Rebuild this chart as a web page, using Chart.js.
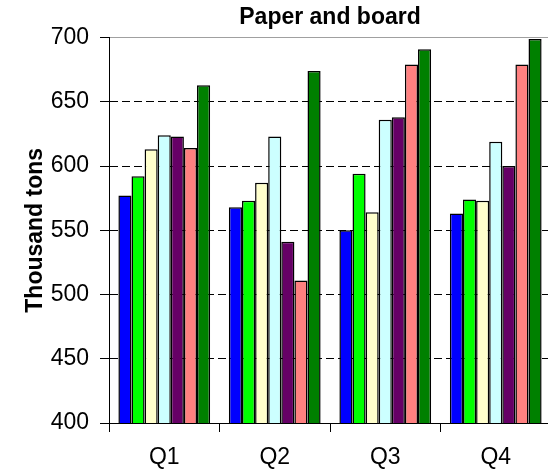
<!DOCTYPE html>
<html>
<head>
<meta charset="utf-8">
<script src="https://cdn.jsdelivr.net/npm/chart.js@4/dist/chart.umd.min.js"></script>
<style>
  html, body { margin: 0; padding: 0; background: #fff; overflow: hidden; }
  canvas { display: block; }
</style>
</head>
<body>
<canvas id="chart" width="551" height="473"></canvas>
<script>
// Paper and board production, thousand tons, by quarter
const quarters = ['Q1', 'Q2', 'Q3', 'Q4'];
const series1 = [577, 568, 550, 563];
const series2 = [592, 573, 594, 574];
const series3 = [613, 587, 564, 573];
const series4 = [624, 623, 636, 619];
const series5 = [623, 541, 638, 600];
const series6 = [614, 511, 679, 679];
const series7 = [663, 674, 691, 699];
const seriesColors = ['#0000ff', '#00ff00', '#ffffcc', '#ccffff', '#660066', '#ff8080', '#008000'];
const yTicks = [400, 450, 500, 550, 600, 650, 700];

const FONT = "Arial, 'Liberation Sans', sans-serif";

const allSeries = [series1, series2, series3, series4, series5, series6, series7];
const datasets = allSeries.map((values, i) => ({
    label: 'Series ' + (i + 1),
    data: values,
    backgroundColor: seriesColors[i],
    borderColor: '#000',
    borderWidth: 1.5,
    borderSkipped: false,
    categoryPercentage: 0.83,
    barPercentage: 1.0
}));

// centre the title over the plot area rather than the whole canvas
const titleOverPlot = {
    id: 'titleOverPlot',
    afterLayout(chart) {
        if (chart.titleBlock) {
            chart.titleBlock.left = chart.chartArea.left;
            chart.titleBlock.right = chart.chartArea.right;
        }
    }
};

new Chart(document.getElementById('chart'), {
    type: 'bar',
    data: { labels: quarters, datasets },
    plugins: [titleOverPlot],
    options: {
        responsive: false,
        animation: false,
        layout: { padding: 0 },
        plugins: {
            legend: { display: false },
            tooltip: { enabled: false },
            title: {
                display: true,
                text: 'Paper and board',
                color: '#000',
                font: { family: FONT, size: 23, weight: 'bold' },
                padding: { top: 4, bottom: 6 }
            }
        },
        scales: {
            x: {
                grid: {
                    offset: true,
                    drawOnChartArea: false,
                    drawTicks: true,
                    tickLength: 9,
                    tickColor: '#000'
                },
                border: { color: '#000', width: 1 },
                ticks: {
                    color: '#000',
                    padding: 12,
                    font: { family: FONT, size: 23 }
                },
                afterFit: s => { s.height = 50; }
            },
            y: {
                min: 400,
                max: 700,
                afterBuildTicks: s => { s.ticks = yTicks.map(v => ({ value: v })); },
                grid: {
                    color: ctx => ctx.tick && ctx.tick.value === 700 ? '#a0a0a0' : '#000',
                    lineWidth: 1,
                    tickLength: 9,
                    tickColor: '#000'
                },
                border: {
                    color: '#000',
                    width: 1,
                    dash: ctx => ctx.tick && ctx.tick.value === 700 ? [] : [8, 4]
                },
                ticks: {
                    color: '#000',
                    padding: 11,
                    font: { family: FONT, size: 23 }
                },
                title: {
                    display: true,
                    text: 'Thousand tons',
                    color: '#000',
                    font: { family: FONT, size: 23, weight: 'bold' },
                    padding: { top: 22, bottom: 0 }
                },
                afterFit: s => { s.width = 109; }
            }
        }
    }
});
</script>
</body>
</html>
